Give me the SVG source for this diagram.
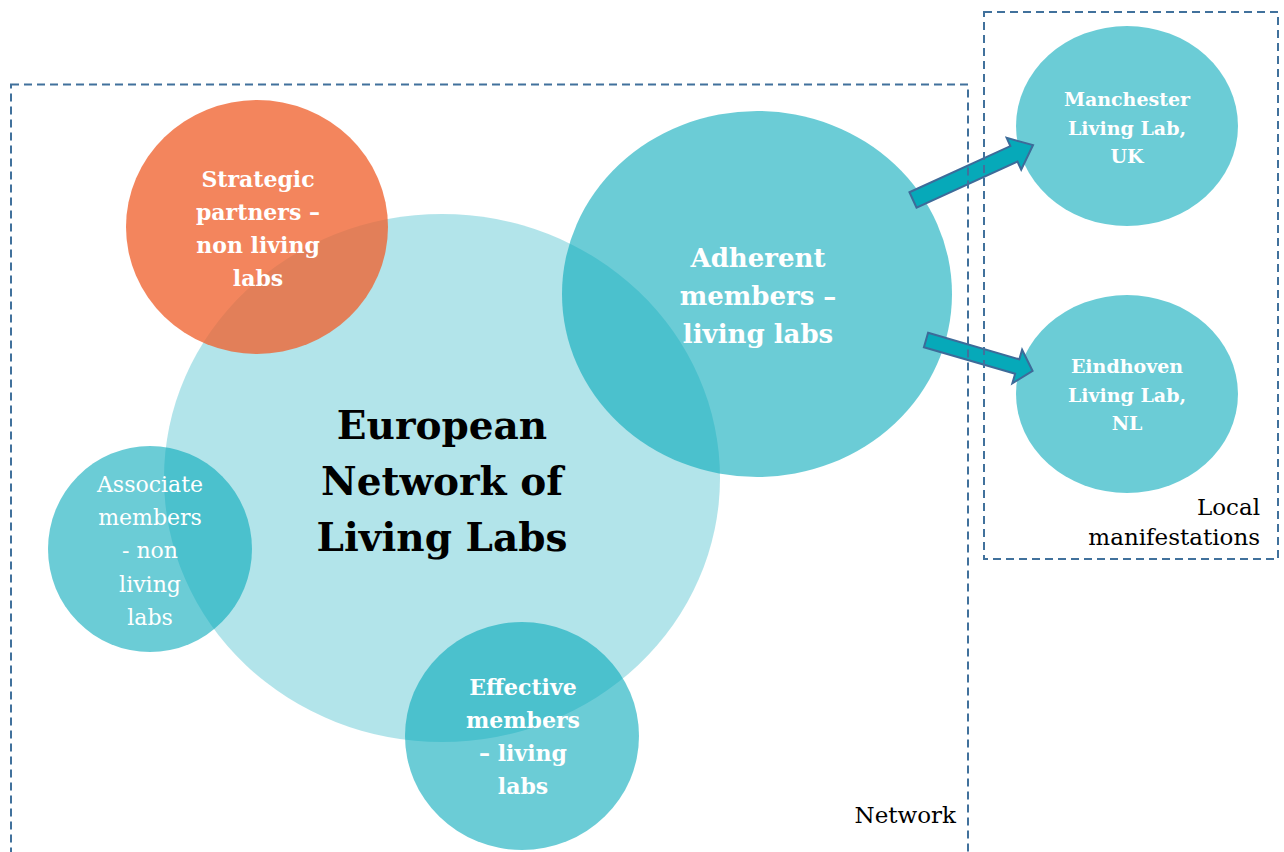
<svg xmlns="http://www.w3.org/2000/svg" width="1284" height="852" viewBox="0 0 1284 852">
  <style>
    .teal { fill: #00a7b8; fill-opacity: 0.58; }
    .core { fill: #00a7b8; fill-opacity: 0.3; }
    .partner { fill: #ef6330; fill-opacity: 0.78; }
    .lbl { font-family: "DejaVu Serif", "Liberation Serif", serif; fill: #ffffff; text-anchor: middle; font-weight: bold; }
    .lbl-reg { font-family: "DejaVu Serif", "Liberation Serif", serif; fill: #ffffff; text-anchor: middle; }
    .title { font-family: "DejaVu Serif", "Liberation Serif", serif; fill: #000000; text-anchor: middle; font-weight: bold; font-size: 39px; }
    .area { fill: none; stroke: #41719c; stroke-width: 2; stroke-dasharray: 8 5; }
    .area-lbl { font-family: "DejaVu Serif", "Liberation Serif", serif; fill: #000000; text-anchor: end; font-size: 23px; }
    .arrow { fill: #06a9b9; stroke: #3d6b99; stroke-width: 2; stroke-linejoin: miter; }
  </style>

  <rect width="1284" height="852" fill="#ffffff"/>

  <!-- central network circle -->
  <g id="enoll">
    <ellipse class="core" cx="442" cy="478" rx="278" ry="264"/>
  </g>

  <g id="strategic">
    <ellipse class="partner" cx="257" cy="227" rx="131" ry="127"/>
  </g>

  <g id="adherent">
    <ellipse class="teal" cx="757" cy="294" rx="195" ry="183"/>
  </g>

  <g id="associate">
    <ellipse class="teal" cx="150" cy="549" rx="102" ry="103"/>
  </g>

  <g id="effective">
    <ellipse class="teal" cx="522" cy="736" rx="117" ry="114"/>
  </g>

  <g id="manchester">
    <ellipse class="teal" cx="1127" cy="126" rx="111" ry="100"/>
  </g>

  <g id="eindhoven">
    <ellipse class="teal" cx="1127" cy="394" rx="111" ry="99"/>
  </g>

  <!-- block arrows from the adherent members to local labs -->
  <g id="connectors">
    <path class="arrow" transform="translate(913,200) rotate(-24.6)" d="M0,-8.5 L111,-8.5 L111,-17.5 L132,0 L111,17.5 L111,8.5 L0,8.5 Z"/>
    <path class="arrow" transform="translate(926,340) rotate(16.2)" d="M0,-7.5 L95,-7.5 L95,-17.5 L111,0 L95,17.5 L95,7.5 L0,7.5 Z"/>
  </g>

  <!-- labels -->
  <g id="enoll-label">
    <text class="title" x="442" y="439">European</text>
    <text class="title" x="442" y="495">Network of</text>
    <text class="title" x="442" y="551">Living Labs</text>
  </g>

  <g id="strategic-label" class="lbl" font-size="22">
    <text x="258" y="187">Strategic</text>
    <text x="258" y="220">partners –</text>
    <text x="258" y="253">non living</text>
    <text x="258" y="286">labs</text>
  </g>

  <g id="adherent-label" class="lbl" font-size="26">
    <text x="758" y="267">Adherent</text>
    <text x="758" y="305">members –</text>
    <text x="758" y="343">living labs</text>
  </g>

  <g id="associate-label" class="lbl-reg" font-size="22">
    <text x="150" y="492">Associate</text>
    <text x="150" y="525">members</text>
    <text x="150" y="558">- non</text>
    <text x="150" y="592">living</text>
    <text x="150" y="625">labs</text>
  </g>

  <g id="effective-label" class="lbl" font-size="22">
    <text x="523" y="695">Effective</text>
    <text x="523" y="728">members</text>
    <text x="523" y="761">– living</text>
    <text x="523" y="794">labs</text>
  </g>

  <g id="manchester-label" class="lbl" font-size="19">
    <text x="1127" y="106">Manchester</text>
    <text x="1127" y="135">Living Lab,</text>
    <text x="1127" y="163">UK</text>
  </g>

  <g id="eindhoven-label" class="lbl" font-size="19">
    <text x="1127" y="373">Eindhoven</text>
    <text x="1127" y="402">Living Lab,</text>
    <text x="1127" y="430">NL</text>
  </g>

  <!-- dashed scope boxes -->
  <g id="network-area">
    <rect class="area" x="11" y="84.5" width="957" height="800"/>
    <text class="area-lbl" x="956" y="823">Network</text>
  </g>

  <g id="local-area">
    <rect class="area" x="984" y="12" width="294" height="547"/>
    <text class="area-lbl" x="1260" y="515">Local</text>
    <text class="area-lbl" x="1260" y="545">manifestations</text>
  </g>
</svg>
